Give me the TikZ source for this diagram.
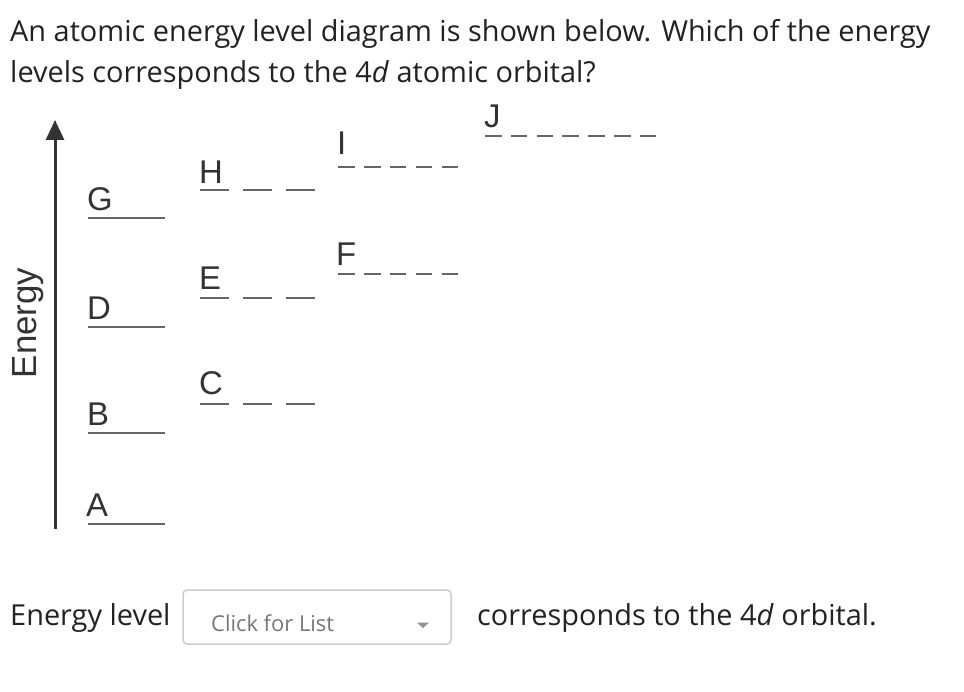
\documentclass[tikz,border=0pt]{standalone}
\usepackage{fontspec}
\setmainfont{Open Sans}
\newfontfamily\lblfont{Liberation Sans}
\usetikzlibrary{arrows.meta}
\definecolor{txt}{HTML}{222222}
\definecolor{axisgray}{HTML}{333333}
\definecolor{levelgray}{HTML}{666666}
\definecolor{boxgray}{HTML}{CCCCCC}
\definecolor{hintgray}{HTML}{777777}
\tikzset{
  qtext/.style={anchor=base west,inner sep=0pt,text=txt,font=\fontsize{29}{29}\selectfont},
  lvllabel/.style={anchor=base west,inner sep=0pt,text=axisgray,font=\lblfont\fontsize{33}{33}\selectfont},
  lvlline/.style={levelgray,line width=2bp},
  shortdash/.style={lvlline,dash pattern=on 29bp off 14bp},
  longdash/.style={lvlline,dash pattern=on 16.5bp off 9.3bp}
}
\begin{document}
\begin{tikzpicture}[x=1bp,y=-1bp]
\useasboundingbox[fill=white] (0,0) rectangle (964,692);
% question
\node[qtext] (q1) at (10,42) {An atomic energy level diagram is shown below. Which of the energy};
\node[qtext] (q2) at (10,83) {levels corresponds to the 4\textit{d} atomic orbital?};
% energy axis
\coordinate (bottom) at (55,529);
\coordinate (top) at (55,120);
\draw[axisgray,line width=3bp,-{Triangle[length=20bp,width=18bp]}] (bottom) -- (top);
\node[rotate=90,inner sep=0pt,text=axisgray,font=\lblfont\fontsize{35}{35}\selectfont] (energy) at (28,323) {Energy};
% first column
\node[lvllabel] (G) at (87,210) {G};
\node[lvllabel] (D) at (87,319.5) {D};
\node[lvllabel] (B) at (87,425) {B};
\node[lvllabel] (A) at (86,516.5) {A};
\draw[lvlline] (88,218) -- (165,218);
\draw[lvlline] (88,326.7) -- (165,326.7);
\draw[lvlline] (88,433.3) -- (165,433.3);
\draw[lvlline] (88,524) -- (165,524);
% second column
\node[lvllabel] (H) at (199,184) {H};
\node[lvllabel] (E) at (199,289) {E};
\node[lvllabel] (C) at (199,394.5) {C};
\draw[shortdash] (200,190) -- (315,190);
\draw[shortdash] (200,298.3) -- (315,298.3);
\draw[shortdash] (200,404.3) -- (315,404.3);
% third column
\node[lvllabel] (I) at (337,155) {I};
\node[lvllabel] (F) at (336,265) {F};
\draw[longdash] (338.3,166.7) -- (458,166.7);
\draw[longdash] (338.3,274.3) -- (458,274.3);
% fourth column
\node[lvllabel] (J) at (484,128) {J};
\draw[longdash] (485,136) -- (657,136);
% answer line
\node[qtext] (ans) at (10,625) {Energy level};
\draw[boxgray,line width=1.5bp,rounded corners=4bp] (183,590) rectangle (451,644);
\node[anchor=base west,inner sep=0pt,text=hintgray,font=\fontsize{22}{22}\selectfont] (hint) at (211,631) {Click for List};
\fill[hintgray!80] (417,622.7) -- (429,622.7) -- (423,628) -- cycle;
\node[qtext] (rest) at (477,625) {corresponds to the 4\textit{d} orbital.};
\end{tikzpicture}
\end{document}
